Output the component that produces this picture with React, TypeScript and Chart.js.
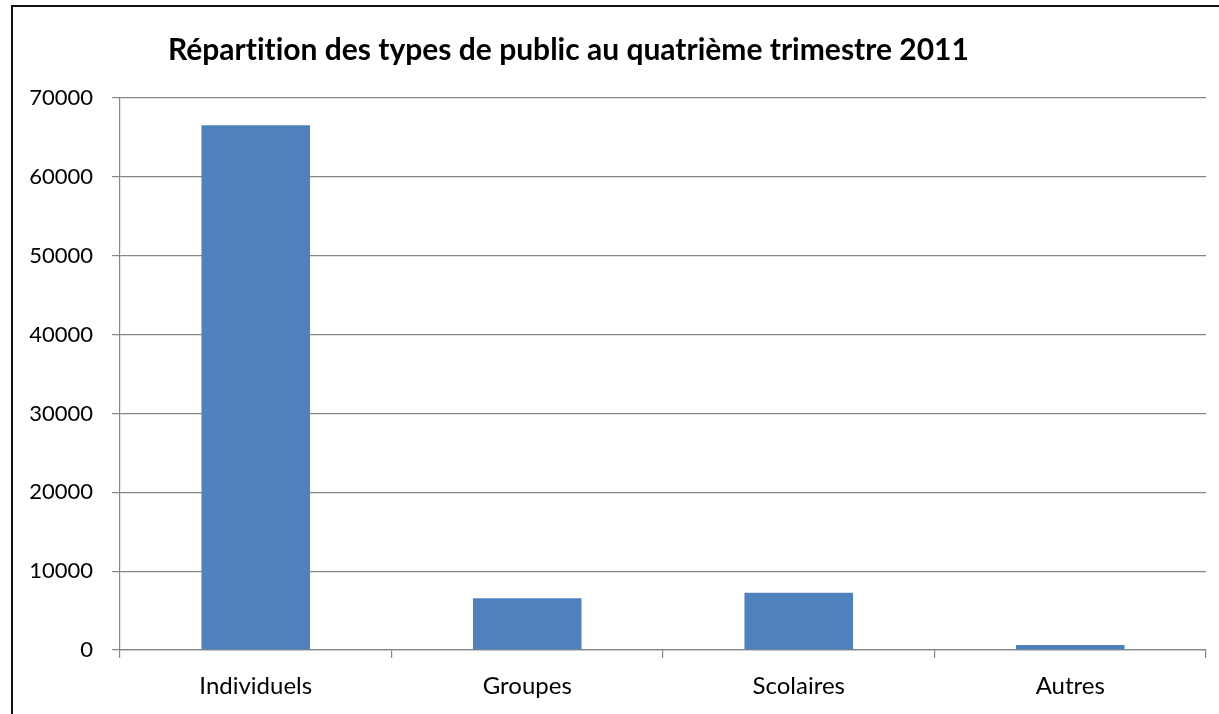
import React, { useEffect, useRef } from "react";
import { Chart, registerables } from "chart.js";

Chart.register(...registerables);

const TITLE = "Répartition des types de public au quatrième trimestre 2011";
const categories = ["Individuels", "Groupes", "Scolaires", "Autres"];
const values = [66550, 6560, 7270, 640];
const yMin = 0;
const yMax = 70000;
const yStep = 10000;

export default function App() {
  const ref = useRef<HTMLCanvasElement | null>(null);

  useEffect(() => {
    if (!ref.current) return;
    const chart = new Chart(ref.current, {
      type: "bar",
      data: {
        labels: categories,
        datasets: [
          {
            data: values,
            backgroundColor: "#4F81BD",
            borderWidth: 0,
            categoryPercentage: 1,
            barPercentage: 0.4,
          },
        ],
      },
      options: {
        responsive: false,
        animation: false,
        layout: { padding: { left: 0, right: 13, top: 98, bottom: 0 } },
        plugins: {
          legend: { display: false },
          title: { display: false },
          tooltip: { enabled: false },
        },
        scales: {
          x: {
            grid: {
              display: true,
              offset: true,
              drawOnChartArea: false,
              drawTicks: true,
              tickLength: 8,
              color: "#868686",
              lineWidth: 1.2,
            },
            border: { display: true, color: "#868686", width: 1.2 },
            ticks: {
              color: "#000",
              font: { family: "Lato", size: 24 },
              padding: 14,
              maxRotation: 0,
            },
            afterFit: (scale: any) => {
              scale.height = 64;
            },
          },
          y: {
            min: yMin,
            max: yMax,
            grid: {
              color: "#868686",
              lineWidth: 1.2,
              drawTicks: true,
              tickLength: 8,
            },
            border: { display: true, color: "#868686", width: 1.2 },
            ticks: {
              stepSize: yStep,
              color: "#000",
              font: { family: "Lato", size: 22 },
              padding: 19,
              callback: (v: any) => String(v),
            },
            afterFit: (scale: any) => {
              scale.width = 120;
            },
          },
        },
      },
    });
    return () => chart.destroy();
  }, []);

  return (
    <div
      style={{
        position: "fixed",
        left: 0,
        top: 0,
        width: 1219,
        height: 714,
        background: "#fff",
        overflow: "hidden",
      }}
    >
      <canvas ref={ref} width={1219} height={714} style={{ position: "absolute", left: 0, top: 0, width: 1219, height: 714 }} />
      <div
        style={{
          position: "absolute",
          left: 11,
          top: 5,
          width: 1300,
          height: 800,
          borderLeft: "2px solid #111",
          borderTop: "2px solid #111",
          pointerEvents: "none",
        }}
      />
      <div
        style={{
          position: "absolute",
          left: 168,
          top: 30,
          fontFamily: "Lato",
          fontWeight: 700,
          fontSize: 30,
          lineHeight: "36px",
          whiteSpace: "nowrap",
          fontVariantLigatures: "none",
          color: "#000",
        }}
      >
        {TITLE}
      </div>
    </div>
  );
}
